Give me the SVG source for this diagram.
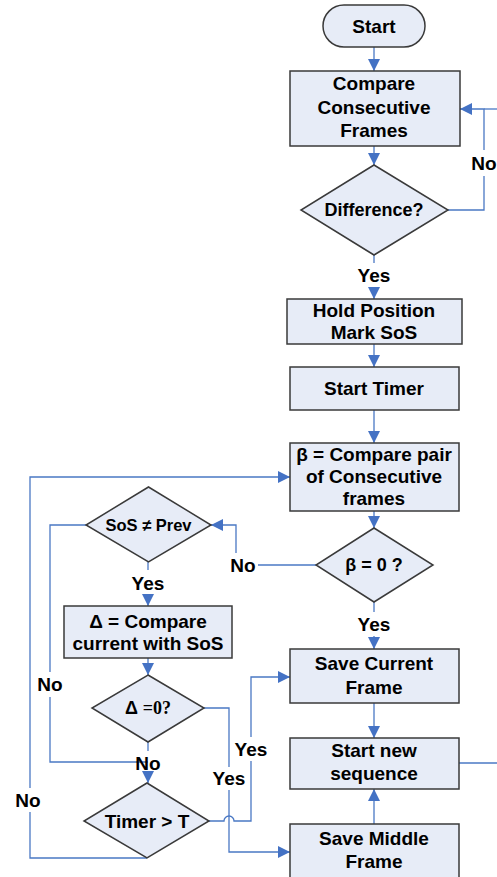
<svg xmlns="http://www.w3.org/2000/svg" width="497" height="877" viewBox="0 0 497 877">
<defs>
<marker id="ah" viewBox="0 0 10 10" refX="10" refY="5" markerWidth="12" markerHeight="12" markerUnits="userSpaceOnUse" orient="auto">
<path d="M0,0 L10,5 L0,10 Z" fill="#4472C4"/>
</marker>
<style>
.n{fill:#E7ECF7;stroke:#3A3A3A;stroke-width:1.5}
.c{fill:none;stroke:#4A78C4;stroke-width:1.3}
.a{marker-end:url(#ah)}
text{font-family:"Liberation Sans",Arial,sans-serif;font-weight:bold;font-size:19px;fill:#000;text-anchor:middle}
.s{font-size:16.5px}
.m{font-size:18px}
.t{font-family:"Liberation Serif","Times New Roman",serif}
</style>
</defs>
<rect width="497" height="877" fill="#fff"/>
<g id="connectors">
<path class="c a" d="M374,47 V71"/>
<path class="c a" d="M374,146 V165"/>
<path class="c" d="M448,210 H484 V176"/>
<path class="c a" d="M484,150 V109 H460"/>
<path class="c" d="M484,109 H497"/>
<path class="c" d="M374,255 V263"/>
<path class="c a" d="M374,287 V299"/>
<path class="c a" d="M374,344 V367"/>
<path class="c a" d="M374,410 V443"/>
<path class="c a" d="M374,511 V528"/>
<path class="c" d="M316,565 H258"/>
<path class="c a" d="M236,553 V525 H211"/>
<path class="c" d="M374,602 V612"/>
<path class="c a" d="M374,636 V649"/>
<path class="c a" d="M374,703 V738"/>
<path class="c" d="M459,763 H497"/>
<path class="c a" d="M374,824 V789"/>
<path class="c" d="M148,562 V570"/>
<path class="c a" d="M148,594 V606"/>
<path class="c a" d="M148,658 V675"/>
<path class="c" d="M148,742 V751"/>
<path class="c a" d="M148,771 V783"/>
<path class="c" d="M86,525 H50 V672"/>
<path class="c" d="M50,697 V762 H148"/>
<path class="c" d="M147,858 H30 V812"/>
<path class="c a" d="M30,788 V477 H290"/>
<path class="c" d="M204,708 H229 V767"/>
<path class="c a" d="M229,790 V852 H290"/>
<path class="c" d="M209,821 H224 A5,5 0 0 1 234,821 H251 V761"/>
<path class="c a" d="M251,737 V677 H290"/>
</g>
<g id="start"><rect class="n" x="323" y="5" width="102" height="42" rx="21"/><text x="374" y="33">Start</text></g>
<g id="compare"><rect class="n" x="290" y="71" width="170" height="75"/><text x="374" y="90">Compare</text><text x="374" y="114">Consecutive</text><text x="374" y="137">Frames</text></g>
<g id="difference"><polygon class="n" points="374,165 448,210 374,255 301,210"/><text class="m" x="374" y="216">Difference?</text></g>
<text x="374" y="282">Yes</text>
<text x="484" y="170">No</text>
<g id="hold"><rect class="n" x="287" y="299" width="175" height="45"/><text x="374" y="317">Hold Position</text><text x="374" y="339">Mark SoS</text></g>
<g id="timer"><rect class="n" x="290" y="367" width="169" height="43"/><text x="374" y="395">Start Timer</text></g>
<g id="beta"><rect class="n" x="290" y="443" width="169" height="68"/><text x="374" y="461">β = Compare pair</text><text x="374" y="483">of Consecutive</text><text x="374" y="505">frames</text></g>
<g id="betazero"><polygon class="n" points="374,528 433,565 374,602 316,565"/><text class="m" x="374" y="571">β  = 0 ?</text></g>
<text x="243" y="572">No</text>
<text x="374" y="631">Yes</text>
<g id="sosprev"><polygon class="n" points="148.5,487 211,525 148.5,562 86,525"/><text class="s" x="148.5" y="531">SoS ≠ Prev</text></g>
<text x="148" y="590">Yes</text>
<g id="delta"><rect class="n" x="64" y="606" width="168" height="52"/><text x="148" y="628">Δ  = Compare</text><text x="148" y="650">current with SoS</text></g>
<g id="deltazero"><polygon class="n" points="148,675 204,708 148,742 92,708"/><text class="m" x="148" y="714"><tspan>Δ  </tspan><tspan class="t">=0?</tspan></text></g>
<text x="148" y="770">No</text>
<text x="50" y="691">No</text>
<text x="28" y="807">No</text>
<g id="timert"><polygon class="n" points="147,783 209,821 147,858 84,821"/><text x="147" y="828">Timer &gt; T</text></g>
<text x="229" y="785">Yes</text>
<text x="251" y="756">Yes</text>
<g id="savecurrent"><rect class="n" x="290" y="649" width="169" height="54"/><text x="374" y="670">Save Current</text><text x="374" y="694">Frame</text></g>
<g id="startnew"><rect class="n" x="290" y="738" width="169" height="51"/><text x="374" y="757">Start new</text><text x="374" y="780">sequence</text></g>
<g id="savemiddle"><rect class="n" x="290" y="824" width="169" height="70"/><text x="374" y="845">Save Middle</text><text x="374" y="868">Frame</text></g>
</svg>
